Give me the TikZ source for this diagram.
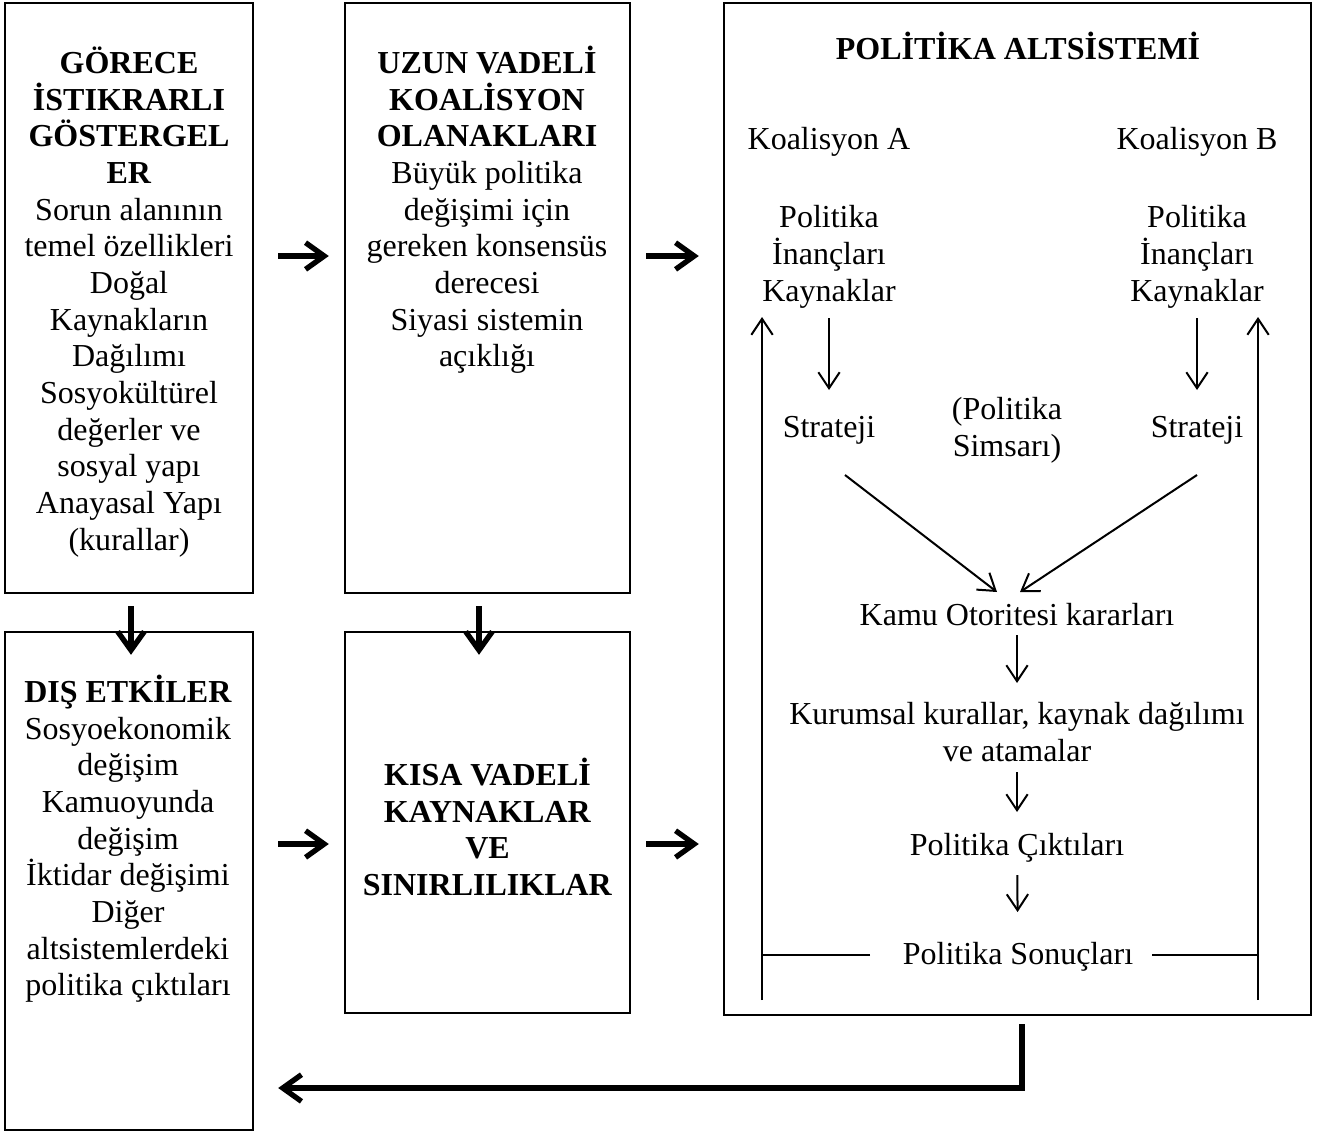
\documentclass[tikz,border=0pt]{standalone}
\usepackage{fontspec}
\setmainfont{Liberation Serif}
\usetikzlibrary{arrows.meta,calc}
\begin{document}
\begin{tikzpicture}[x=0.75pt,y=-0.75pt,
  every node/.style={font=\fontsize{24}{27.5}\selectfont, align=center, inner sep=0pt},
  box/.style={draw, line width=1.8pt, inner sep=0pt},
  bigarrow/.style={line width=4pt, -{Straight Barb[length=14pt,width=20pt]}},
  thinarrow/.style={line width=1.5pt, -{Straight Barb[length=12pt,width=16pt]}},
  thinline/.style={line width=1.5pt}]
\useasboundingbox (0,0) rectangle (1319,1133);

% boxes
\node[box, minimum width=186pt, minimum height=442.5pt] (b1) at (129,298) {};
\node[box, minimum width=213.75pt, minimum height=442.5pt] (b2) at (487.5,298) {};
\node[box, minimum width=440.25pt, minimum height=759pt] (b3) at (1017.5,509) {};
\node[box, minimum width=186pt, minimum height=373.5pt] (b4) at (129,881) {};
\node[box, minimum width=213.75pt, minimum height=285.75pt] (b5) at (487.5,822.5) {};

% box texts
\node (t1) at (129,302) {\textbf{GÖRECE}\\\textbf{İSTIKRARLI}\\\textbf{GÖSTERGEL}\\\textbf{ER}\\Sorun alanının\\temel özellikleri\\Doğal\\Kaynakların\\Dağılımı\\Sosyokültürel\\değerler ve\\sosyal yapı\\Anayasal Yapı\\(kurallar)};
\node (t2) at (487,210) {\textbf{UZUN VADELİ}\\\textbf{KOALİSYON}\\\textbf{OLANAKLARI}\\Büyük politika\\değişimi için\\gereken konsensüs\\derecesi\\Siyasi sistemin\\açıklığı};
\node (t4) at (128,839) {\textbf{DIŞ ETKİLER}\\Sosyoekonomik\\değişim\\Kamuoyunda\\değişim\\İktidar değişimi\\Diğer\\altsistemlerdeki\\politika çıktıları};
\node (t5) at (487.5,827) {\textbf{KISA VADELİ}\\\textbf{KAYNAKLAR}\\\textbf{VE}\\\textbf{SINIRLILIKLAR}};

% policy subsystem contents
\node (title) at (1018,46) {\textbf{POLİTİKA ALTSİSTEMİ}};
\node (koalA) at (829,142) {Koalisyon A};
\node (koalB) at (1197,142) {Koalisyon B};
\node (polA) at (829,257) {Politika\\İnançları\\Kaynaklar};
\node (polB) at (1197,257) {Politika\\İnançları\\Kaynaklar};
\node (strA) at (829,430) {Strateji};
\node (strB) at (1197,430) {Strateji};
\node (simsar) at (1007,430) {(Politika\\Simsarı)};
\node (kamu) at (1017,615) {Kamu Otoritesi kararları};
\node (kurum) at (1017,732) {Kurumsal kurallar, kaynak dağılımı\\ve atamalar};
\node (cikti) at (1017,848) {Politika Çıktıları};
\node (sonuc) at (1018,957) {Politika Sonuçları};

% inner arrows
\draw[thinarrow, shorten <=46pt, shorten >=30pt] (polA.center) -- (strA.center);
\draw[thinarrow, shorten <=46pt, shorten >=30pt] (polB.center) -- (strB.center);
\draw[thinarrow] ($(strA.center)+(16,45)$) -- ($(kamu.center)+(-20,-23)$);
\draw[thinarrow] ($(strB.center)+(0,45)$) -- ($(kamu.center)+(3,-23)$);
\draw[thinarrow, shorten <=15pt, shorten >=36.75pt] (kamu.center) -- (kurum.center);
\draw[thinarrow, shorten <=30pt, shorten >=27pt] (kurum.center) -- (cikti.center);
\draw[thinarrow, shorten <=20.25pt, shorten >=33.75pt] (cikti.center) -- (sonuc.center);

% feedback loops inside subsystem
\coordinate (LB) at (762,1000);
\coordinate (LT) at (762,317);
\coordinate (RB) at (1258,1000);
\coordinate (RT) at (1258,317);
\coordinate (LH) at (870,955);
\coordinate (RH) at (1152,955);
\draw[thinarrow] (LB) -- (LT);
\draw[thinarrow] (RB) -- (RT);
\draw[thinline] (LH) -- (LB |- LH);
\draw[thinline] (RH) -- (RB |- RH);

% thick arrows between boxes
\coordinate (ya) at (0,256);
\coordinate (yb) at (0,844);
\draw[bigarrow, shorten <=18pt, shorten >=11.25pt] (b1.east |- ya) -- (b2.west |- ya);
\draw[bigarrow, shorten <=11.25pt, shorten >=18pt] (b2.east |- ya) -- (b3.west |- ya);
\draw[bigarrow, shorten <=18pt, shorten >=11.25pt] (b4.east |- yb) -- (b5.west |- yb);
\draw[bigarrow, shorten <=11.25pt, shorten >=18pt] (b5.east |- yb) -- (b3.west |- yb);

\coordinate (xa) at (131,0);
\coordinate (xb) at (479,0);
\draw[bigarrow, shorten <=9pt, shorten >=-18pt] (b1.south -| xa) -- (b4.north -| xa);
\draw[bigarrow, shorten <=9pt, shorten >=-18pt] (b2.south -| xb) -- (b5.north -| xb);

% outer feedback
\coordinate (fb) at (1022,1088);
\draw[bigarrow, shorten <=6pt, shorten >=18pt] (b3.south -| fb) -- (fb) -- (b4.east |- fb);
\end{tikzpicture}
\end{document}
